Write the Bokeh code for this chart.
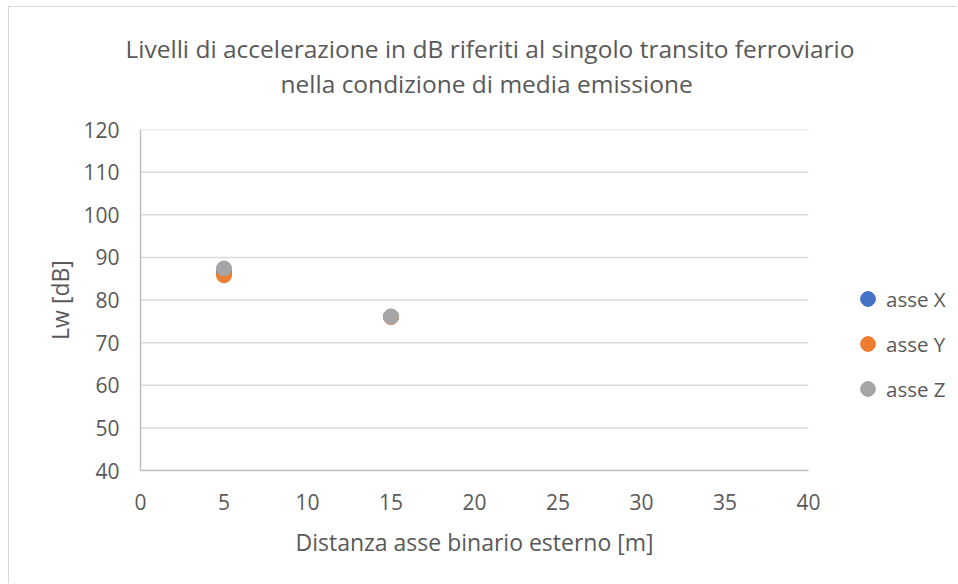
from bokeh.plotting import figure
from bokeh.models import Range1d, FixedTicker, Title, Legend, LegendItem
from bokeh.embed import file_html
from bokeh.resources import INLINE

# Data
distance = [5, 15]
asse_x = [86.6, 76.1]
asse_y = [85.8, 76.0]
asse_z = [87.4, 76.1]
series_names = ["asse X", "asse Y", "asse Z"]
series_colors = ["#4472C4", "#ED7D31", "#A5A5A5"]
x_ticks = [0, 5, 10, 15, 20, 25, 30, 35, 40]
y_ticks = [40, 50, 60, 70, 80, 90, 100, 110, 120]
title_lines = ["Livelli di accelerazione in dB riferiti al singolo transito ferroviario",
               "nella condizione di media emissione"]
x_label = "Distanza asse binario esterno [m]"
y_label = "Lw [dB]"

FONT = "Open Sans"
TXT = "#595959"

# the frame is widened to the right (beyond x=40) to hold the legend;
# axis and grid lines are bounded to 0..40
X_VIEW_END = 48.38

p = figure(width=949, height=577, output_backend="svg", toolbar_location=None,
           x_range=Range1d(0, X_VIEW_END), y_range=Range1d(40, 120),
           min_border_left=131, min_border_right=10, min_border_top=122, min_border_bottom=114)
p.styles = {"margin-left": "8px", "margin-top": "6px",
            "border-left": "1px solid #d9d9d9", "border-top": "1px solid #d9d9d9"}
p.outline_line_color = None
p.background_fill_color = "white"

# axes
for ax in (p.xaxis[0], p.yaxis[0]):
    ax.major_tick_line_color = None
    ax.minor_tick_line_color = None
    ax.axis_line_color = "#BFBFBF"
    ax.axis_line_width = 1.5
    ax.major_label_text_color = TXT
    ax.major_label_text_font = FONT
    ax.major_label_text_font_size = "21px"
    ax.axis_label_text_color = TXT
    ax.axis_label_text_font = FONT
    ax.axis_label_text_font_size = "23px"
    ax.axis_label_text_font_style = "normal"
p.xaxis[0].ticker = FixedTicker(ticks=x_ticks)
p.yaxis[0].ticker = FixedTicker(ticks=y_ticks)
p.xaxis[0].bounds = (x_ticks[0], x_ticks[-1])
p.yaxis[0].axis_label = y_label
p.xaxis[0].major_label_standoff = 17
p.yaxis[0].major_label_standoff = 15
p.yaxis[0].axis_label_standoff = 4

# x axis title, placed below the axis and aligned to the 0..40 span
xt = Title(text=x_label, align="left", text_font=FONT, text_font_size="23px",
           text_color=TXT, text_font_style="normal", standoff=22, offset=155)
p.add_layout(xt, "below")

# horizontal grid lines limited to the axis span
p.xgrid.grid_line_color = None
p.ygrid.grid_line_color = None
p.segment(x0=[x_ticks[0]] * len(y_ticks), x1=[x_ticks[-1]] * len(y_ticks),
          y0=y_ticks, y1=y_ticks, line_color="#D9D9D9", line_width=1.5, level="underlay")

# title lines: figure's own title is the upper line, the added Title sits next to the frame
p.title.text = title_lines[0]
p.title.align = "left"
p.title.text_font = FONT
p.title.text_font_size = "24.5px"
p.title.text_color = TXT
p.title.text_font_style = "normal"
p.title.standoff = -59
p.title.offset = -15
t2 = Title(text=title_lines[1], align="left", text_font=FONT, text_font_size="24.5px",
           text_color=TXT, text_font_style="normal", standoff=59, offset=140)
p.add_layout(t2, "above")

items = []
for name, col, ys in zip(series_names, series_colors, [asse_x, asse_y, asse_z]):
    r = p.scatter(distance, ys, size=15, fill_color=col, line_color=col)
    items.append(LegendItem(label=name, renderers=[r]))

legend = Legend(items=items, location=(709, 63), padding=0, margin=0,
                glyph_width=37, glyph_height=37, label_height=20, spacing=8,
                label_standoff=0, border_line_color=None, background_fill_alpha=0,
                label_text_font=FONT, label_text_font_size="20.5px", label_text_color=TXT)
p.add_layout(legend, "center")

open("out.html", "w").write(file_html(p, INLINE))
